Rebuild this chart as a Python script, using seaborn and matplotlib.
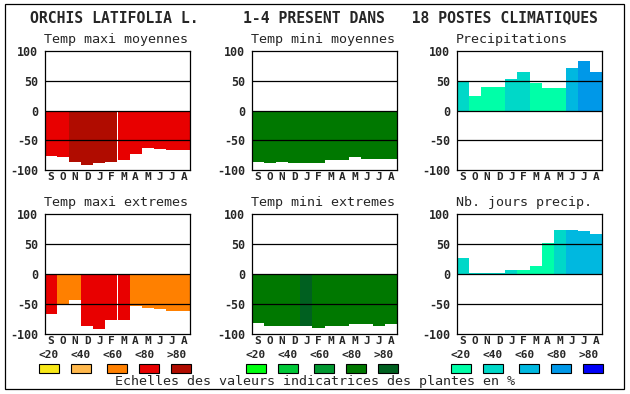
import matplotlib
matplotlib.use('Agg')
import matplotlib.pyplot as plt
from matplotlib.patches import Rectangle
import seaborn as sns

months = ['S', 'O', 'N', 'D', 'J', 'F', 'M', 'A', 'M', 'J', 'J', 'A']
levels = ['<20', '<40', '<60', '<80', '>80']

tmax_moy = [-76, -78, -86, -91, -88, -86, -84, -73, -63, -64, -66, -67]
tmax_moy_cls = [3, 3, 4, 4, 4, 4, 3, 3, 3, 3, 3, 3]
tmin_moy = [-86, -88, -86, -88, -88, -88, -84, -84, -78, -82, -81, -81]
tmin_moy_cls = [3, 3, 3, 3, 3, 3, 3, 3, 3, 3, 3, 3]
precip = [50, 25, 40, 40, 53, 65, 47, 37, 37, 72, 83, 65]
precip_cls = [1, 0, 0, 0, 1, 1, 0, 0, 0, 2, 3, 3]
tmax_ext = [-66, -50, -44, -87, -91, -77, -77, -54, -56, -58, -61, -61]
tmax_ext_cls = [3, 2, 2, 3, 3, 3, 3, 2, 2, 2, 2, 2]
tmin_ext = [-82, -87, -87, -87, -87, -90, -87, -86, -84, -84, -86, -84]
tmin_ext_cls = [3, 3, 3, 3, 4, 3, 3, 3, 3, 3, 3, 3]
jours = [27, 2, 2, 2, 7, 7, 14, 52, 74, 74, 71, 67]
jours_cls = [1, 1, 1, 1, 1, 0, 0, 0, 1, 2, 2, 2]

reds = ['#f8e818', '#ffb84c', '#ff8000', '#e80000', '#b00c00']
greens = ['#00ff10', '#00c838', '#009830', '#007800', '#006020']
blues = ['#00ffa8', '#00d8c8', '#00b8e0', '#0098e8', '#0000f8']

title = 'ORCHIS LATIFOLIA L.     1-4 PRESENT DANS   18 POSTES CLIMATIQUES'
caption = 'Echelles des valeurs indicatrices des plantes en %'

sns.set_style('white')
plt.rcParams['font.family'] = ['DejaVu Sans Mono']

W, H = 630, 394
fig = plt.figure(figsize=(6.3, 3.94), dpi=100)

# overlay in pixel coords for frame, title, legend
ov = fig.add_axes([0, 0, 1, 1], zorder=-1)
ov.set_xlim(0, W)
ov.set_ylim(H, 0)
ov.axis('off')
ov.add_patch(Rectangle((5, 4), 619, 385, fill=False, ec='black', lw=0.9))
ov.text(314, 18, title, ha='center', va='center', fontsize=10.6, fontweight='bold')
ov.text(315, 382, caption, ha='center', va='center', fontsize=9.6)

lefts = [45, 252, 457]
panels = [
    (0, 0, 'Temp maxi moyennes', tmax_moy, tmax_moy_cls, reds),
    (0, 1, 'Temp mini moyennes', tmin_moy, tmin_moy_cls, greens),
    (0, 2, 'Precipitations', precip, precip_cls, blues),
    (1, 0, 'Temp maxi extremes', tmax_ext, tmax_ext_cls, reds),
    (1, 1, 'Temp mini extremes', tmin_ext, tmin_ext_cls, greens),
    (1, 2, 'Nb. jours precip.', jours, jours_cls, blues),
]
rows = [(51, 170), (214, 334)]

for r, c, name, vals, cls, pal in panels:
    top, bot = rows[r]
    left = lefts[c]
    ax = fig.add_axes([left / W, 1 - bot / H, 145 / W, (bot - top) / H])
    sns.barplot(x=list(range(12)), y=vals, hue=[levels[k] for k in cls],
                palette=dict(zip(levels, pal)), hue_order=levels, dodge=False,
                width=1, saturation=1, linewidth=0, legend=False, ax=ax)
    for yv in [50, 0, -50]:
        ax.axhline(yv, color='black', lw=0.9, zorder=5)
    ax.set_xlim(-0.5, 11.5)
    ax.set_ylim(-100, 100)
    ax.set_yticks([100, 50, 0, -50, -100])
    ax.set_yticklabels(['100', '50', '0', '-50', '-100'], fontsize=8.4, fontweight='bold')
    ax.set_xticks(range(12))
    ax.set_xticklabels(months, fontsize=8, fontweight='bold')
    ax.tick_params(axis='y', length=0, pad=5)
    ax.tick_params(axis='x', length=0, pad=1.5)
    ax.set_xlabel('')
    ax.set_ylabel('')
    for s in ax.spines.values():
        s.set_linewidth(0.9)
        s.set_color('black')
        s.set_zorder(6)
    ov.text(left - 1, top - 12, name, ha='left', va='center', fontsize=9.6)

    if r == 1:
        for i, lab in enumerate(levels):
            ov.text(left + 4 + 32 * i, 355, lab, ha='center', va='center',
                    fontsize=8, fontweight='bold')
            bx = left + [-6, 26, 62, 94, 126][i]
            ov.add_patch(Rectangle((bx, 364), 20, 9, fc=pal[i], ec='black', lw=0.8))

fig.savefig('out.png', dpi=100)
